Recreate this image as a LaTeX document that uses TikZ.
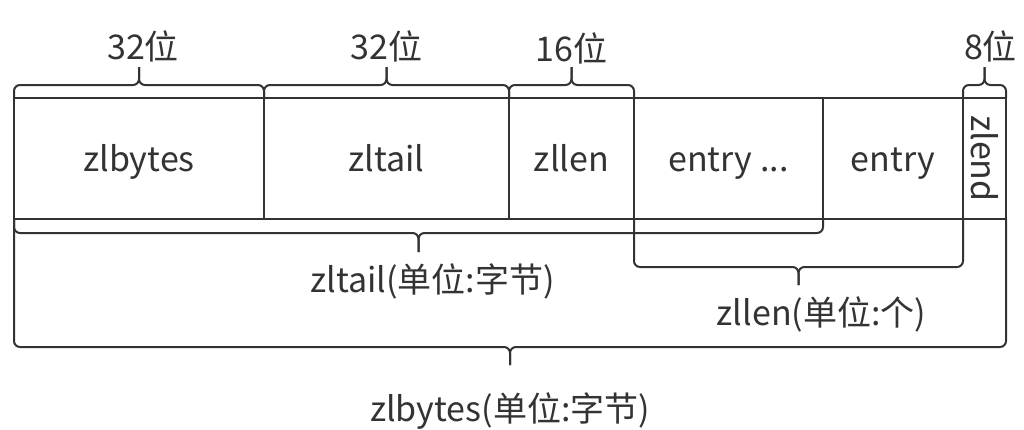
\documentclass[tikz,border=0pt]{standalone}
\usepackage{fontspec}
\usepackage{graphicx}
\setmainfont{Noto Sans CJK SC}
\usetikzlibrary{positioning,calc}
\definecolor{ink}{HTML}{333333}

% brace: left point, right point, offset of the bar, tip length, tip name
\newcommand{\spanbrace}[5]{%
  \coordinate (#5m) at ($(#1)!0.5!(#2)+(0,#3)$);
  \draw[brc] (#1) |- (#5m) -- ++(0,#4) coordinate (#5);
  \draw[brc] (#2) |- (#5m) -- ++(0,#4);
}

\begin{document}
\begin{tikzpicture}[x=1pt,y=-1pt,
  cell/.style = {draw=ink, fill=white, line width=2pt, outer sep=0pt, inner sep=0pt,
                 minimum height=121pt, text=ink, font=\fontsize{34}{40}\selectfont},
  txt/.style = {text height=28pt, text depth=3pt},
  brc/.style = {draw=ink, line width=2pt, rounded corners=6pt},
  lbl/.style = {text=ink, inner sep=1pt, font=\fontsize{34}{40}\selectfont}]
\useasboundingbox[fill=white] (0,0) rectangle (1024,429);
\node[cell, txt, minimum width=250pt] (zlbytes) at (139,158.5) {zlbytes};
\node[cell, txt, minimum width=245pt, right=0pt of zlbytes] (zltail) {zltail};
\node[cell, txt, minimum width=125pt, right=0pt of zltail] (zllen) {zllen};
\node[cell, txt, minimum width=189pt, right=0pt of zllen] (entrya) {entry ...};
\node[cell, txt, minimum width=140pt, right=0pt of entrya] (entryb) {entry};
\node[cell, minimum width=43pt, right=0pt of entryb] (zlend) {\rotatebox{-90}{zlend}};
% widths on top
\spanbrace{zlbytes.north west}{zlbytes.north east}{-13}{-18}{t1}
\spanbrace{zltail.north west}{zltail.north east}{-13}{-18}{t2}
\spanbrace{zllen.north west}{zllen.north east}{-13}{-18}{t3}
\spanbrace{zlend.north west}{zlend.north east}{-13}{-18}{t4}
\node[lbl, above=4pt of t1, xshift=4pt] (w1) {32位};
\node[lbl, above=4pt of t2] (w2) {32位};
\node[lbl, above=2pt of t3] (w3) {16位};
\node[lbl, above=4pt of t4, xshift=6pt] (w4) {8位};
% offsets below
\spanbrace{zlbytes.south west}{entrya.south east}{14}{19}{b1}
\spanbrace{entrya.south west}{zlend.south west}{48}{18}{b2}
\spanbrace{zlbytes.south west}{zlend.south east}{128}{18}{b3}
\node[lbl, below=10pt of b1, xshift=14pt] (l1) {zltail(单位:字节)};
\node[lbl, below=10pt of b2, xshift=23pt] (l2) {zllen(单位:个)};
\node[lbl, below=26pt of b3] (l3) {zlbytes(单位:字节)};
\end{tikzpicture}
\end{document}
